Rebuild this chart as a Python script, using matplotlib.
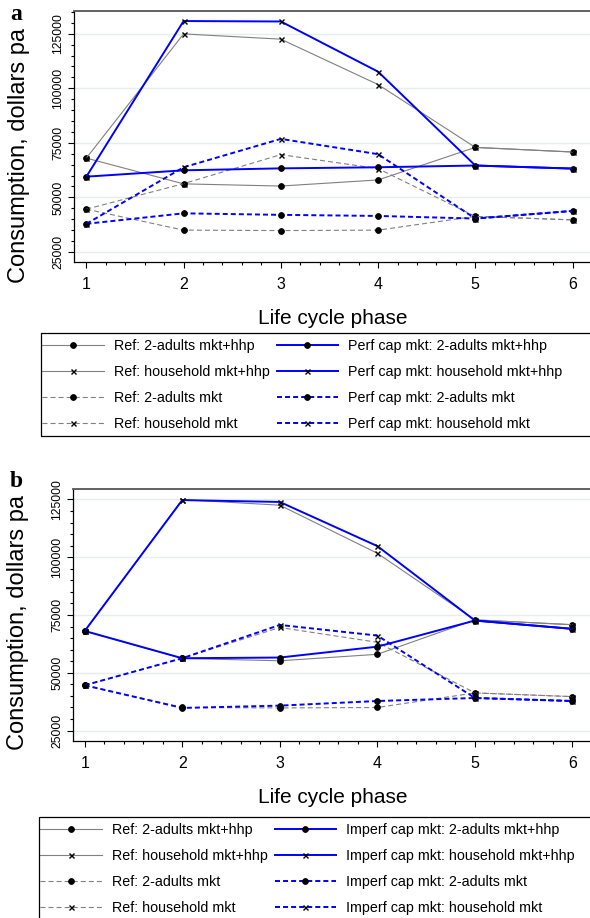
import numpy as np
import matplotlib
matplotlib.use("Agg")
import matplotlib.pyplot as plt
from matplotlib.patches import Rectangle
from matplotlib.ticker import MultipleLocator

plt.rcParams['font.family'] = ['Liberation Sans', 'DejaVu Sans']
plt.rcParams['lines.scale_dashes'] = False

# ---- data ----
phases = [1, 2, 3, 4, 5, 6]

# reference scenario (same in both panels)
ref_adults_full = [68000, 56200, 55200, 58000, 72900, 70800]
ref_household_full = [68000, 124900, 122500, 101700, 72900, 70800]
ref_adults_mkt = [44600, 35000, 34800, 35000, 41300, 39700]
ref_household_mkt = [44600, 56300, 69600, 63200, 41300, 39700]

# panel a: perfect capital market
perf_adults_full = [59500, 62400, 63300, 63800, 64600, 63200]
perf_household_full = [59500, 130800, 130600, 107600, 64600, 63200]
perf_adults_mkt = [37900, 42700, 42000, 41500, 40300, 43800]
perf_household_mkt = [37900, 63800, 76800, 69800, 40300, 43800]

# panel b: imperfect capital market
imperf_adults_full = [68100, 56300, 56600, 61300, 72600, 69000]
imperf_household_full = [68100, 124700, 123900, 104800, 72600, 69000]
imperf_adults_mkt = [44600, 34800, 35800, 37800, 39100, 37800]
imperf_household_mkt = [44600, 56300, 70700, 66100, 39100, 37800]

series_names = ["2-adults mkt+hhp", "household mkt+hhp", "2-adults mkt", "household mkt"]
y_ticks = [25000, 50000, 75000, 100000, 125000]

GRAY = '#808080'
BLUE = '#0000ff'
DASH = (3.6, 2.2)

fig = plt.figure(figsize=(5.9, 9.18), dpi=100)
W, H = 590.0, 918.0


def style_of(idx, color, lw):
    ls = '-' if idx < 2 else '--'
    marker = 'o' if idx % 2 == 0 else 'x'
    return dict(color=color, lw=lw, linestyle=ls, marker=marker,
                markersize=4.2 if marker == 'o' else 3.6,
                markerfacecolor='black', markeredgecolor='black',
                markeredgewidth=0.6 if marker == 'o' else 1.0)


def draw_panel(rect, xlim, ylim, alt_series, alt_prefix, letter, letter_y,
               ylab_y, legend_box):
    ax = fig.add_axes(rect)
    ref_series = [ref_adults_full, ref_household_full, ref_adults_mkt, ref_household_mkt]
    handles = []
    labels = []
    for i, vals in enumerate(ref_series):
        kw = style_of(i, GRAY, 0.8)
        line, = ax.plot(phases, vals, **kw)
        if kw['linestyle'] == '--':
            line.set_dashes(DASH)
        handles.append(line)
        labels.append("Ref: " + series_names[i])
    for i, vals in enumerate(alt_series):
        kw = style_of(i, BLUE, 1.4)
        line, = ax.plot(phases, vals, **kw)
        if kw['linestyle'] == '--':
            line.set_dashes(DASH)
        handles.append(line)
        labels.append(alt_prefix + series_names[i])

    ax.set_xlim(*xlim)
    ax.set_ylim(*ylim)
    ax.set_xticks(phases)
    ax.xaxis.set_minor_locator(MultipleLocator(0.2))
    ax.set_yticks(y_ticks)
    ax.yaxis.set_minor_locator(MultipleLocator(5000))
    for yv in y_ticks:
        ax.axhline(yv, color='#e4eeee', lw=1.0, zorder=0)

    ax.tick_params(axis='both', which='major', length=4, width=0.8, color='black')
    ax.tick_params(axis='both', which='minor', length=2.5, width=0.8, color='black')
    ax.tick_params(axis='x', labelsize=11.5, pad=7)
    ax.tick_params(axis='y', labelsize=8.8, pad=3, labelrotation=90)
    for t in ax.get_yticklabels():
        t.set_va('center')

    ax.spines['right'].set_visible(False)
    ax.spines['top'].set_color('#555555')
    ax.spines['top'].set_linewidth(1.3)
    ax.spines['left'].set_linewidth(0.9)
    ax.spines['bottom'].set_linewidth(0.9)

    ax.set_xlabel("Life cycle phase", fontsize=15, labelpad=12)
    ax.set_ylabel("Consumption, dollars pa", fontsize=17)
    ax.yaxis.set_label_coords(-0.085, ylab_y)

    fig.text(10 / W, 1 - letter_y / H, letter, fontsize=17, fontweight='bold',
             family='Liberation Serif', va='baseline', ha='left')

    # legend frame runs past the right / bottom edge of the figure, as in the reference
    x0, y0, y1 = legend_box
    fig.patches.append(Rectangle((x0 / W, 1 - y1 / H), (620 - x0) / W, (y1 - y0) / H,
                                 transform=fig.transFigure, fill=False,
                                 edgecolor='black', lw=0.9))
    ax.legend(handles, labels, ncol=2, loc='upper left',
              bbox_to_anchor=((x0 - 5) / W, 1 - y0 / H), bbox_transform=fig.transFigure,
              fontsize=10.3, handlelength=4.3, handletextpad=0.7,
              columnspacing=0.5, labelspacing=0.83, borderpad=0.42,
              borderaxespad=0, numpoints=1, frameon=False)
    return ax


# panel a
draw_panel([74 / W, 1 - 262 / H, (592 - 74) / W, (262 - 11) / H],
           (0.873, 6.2), (20400, 135400),
           [perf_adults_full, perf_household_full, perf_adults_mkt, perf_household_mkt],
           "Perf cap mkt: ", "a", 20, 0.426, (41, 333, 436))

# panel b
draw_panel([73 / W, 1 - 741 / H, (592 - 73) / W, (741 - 489) / H],
           (0.88, 6.2), (20500, 129500),
           [imperf_adults_full, imperf_household_full, imperf_adults_mkt, imperf_household_mkt],
           "Imperf cap mkt: ", "b", 487, 0.47, (39, 817, 940))

fig.savefig("out.png", dpi=100)
